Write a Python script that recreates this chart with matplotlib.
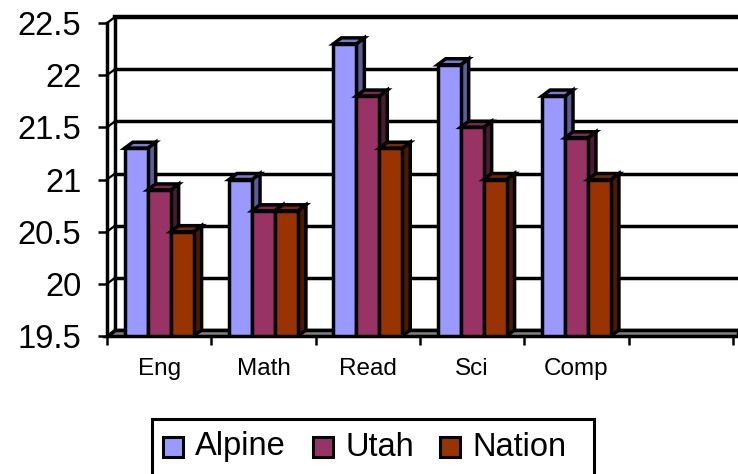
import matplotlib.pyplot as plt
from matplotlib.patches import Polygon, Rectangle

plt.rcParams['font.family'] = ['Liberation Sans', 'DejaVu Sans']

subjects = ['Eng', 'Math', 'Read', 'Sci', 'Comp', '']
series_names = ['Alpine', 'Utah', 'Nation']
alpine = [21.3, 21.0, 22.3, 22.1, 21.8]
utah = [20.9, 20.7, 21.8, 21.5, 21.4]
nation = [20.5, 20.7, 21.3, 21.0, 21.0]
yticks = [19.5, 20, 20.5, 21, 21.5, 22, 22.5]

front_cols = ['#9999FF', '#993366', '#993300']
side_cols = ['#5C5C99', '#4D1A33', '#4D1A00']
top_cols = ['#7A7ACC', '#7A2952', '#7A2900']

W, H = 738, 474
fig = plt.figure(figsize=(W / 100, H / 100), dpi=100)
# axes = front plane of the 3d box, in pixels
L, R, B, T = 107, 733, 336, 23
ax = fig.add_axes([L / W, 1 - B / H, (R - L) / W, (B - T) / H])
ymin, ymax = 19.5, 22.5
nslots = len(subjects)
ax.set_xlim(0, nslots)
ax.set_ylim(ymin, ymax)
for s in ax.spines.values():
    s.set_visible(False)

# depth offset of the back wall (8 px right, 6 px up)
ddx = 8 * nslots / (R - L)
ddy = 6 * (ymax - ymin) / (B - T)
xright = nslots + (W - R) * nslots / (R - L)
lw = 2.5

# back wall gridlines + little diagonals from the front axis
for v in yticks:
    ax.plot([ddx, xright], [v + ddy, v + ddy], color='black', lw=lw if v < ymax else 3.2,
            clip_on=False, zorder=1)
    ax.plot([0, ddx], [v, v + ddy], color='black', lw=1.6, clip_on=False, zorder=1)
ax.plot([ddx, ddx], [ymin + ddy, ymax + ddy], color='black', lw=lw, clip_on=False, zorder=1)
ax.plot([0, 0], [ymin, ymax], color='black', lw=lw, clip_on=False, zorder=1)

# floor
floor = Polygon([(0, ymin), (xright, ymin), (xright, ymin + ddy), (ddx, ymin + ddy)],
                closed=True, facecolor='#808080', edgecolor='black', lw=lw,
                clip_on=False, zorder=1)
ax.add_patch(floor)

# bars with fake depth
width = 0.22
values = [alpine, utah, nation]
z = 2
for i in range(len(alpine)):
    for k, vals in enumerate(values):
        x0 = i + 0.5 + (k - 1) * width - width / 2
        x1 = x0 + width
        v = vals[i]
        ax.bar(x0, v - ymin, width=width, bottom=ymin, align='edge',
               color=front_cols[k], edgecolor='black', lw=lw, zorder=z)
        ax.add_patch(Polygon([(x1, ymin), (x1, v), (x1 + ddx, v + ddy), (x1 + ddx, ymin + ddy)],
                             closed=True, facecolor=side_cols[k], edgecolor='black',
                             lw=lw, zorder=z - 0.5))
        ax.add_patch(Polygon([(x0, v), (x1, v), (x1 + ddx, v + ddy), (x0 + ddx, v + ddy)],
                             closed=True, facecolor=top_cols[k], edgecolor='black',
                             lw=lw, zorder=z - 0.5))
        z += 1

# ticks
ax.set_yticks(yticks)
ax.set_yticklabels(['19.5', '20', '20.5', '21', '21.5', '22', '22.5'])
ax.tick_params(axis='y', length=6.5, width=1.8, pad=12, labelsize=23.5)
ax.set_xticks(range(nslots + 1))
ax.set_xticklabels([])
ax.set_xticks([i + 0.5 for i in range(nslots)], minor=True)
ax.set_xticklabels(subjects, minor=True)
ax.tick_params(axis='x', which='major', length=6.5, width=1.8)
ax.tick_params(axis='x', which='minor', length=0, pad=16, labelsize=17.5)

# legend box (bottom runs off the picture)
def fx(px):
    return px / W

def fy(py):
    return 1 - py / H

fig.add_artist(Rectangle((fx(152), fy(490)), fx(594) - fx(152), fy(419) - fy(490),
                         transform=fig.transFigure, facecolor='white',
                         edgecolor='black', lw=2.2, clip_on=False))
sq_x = [163, 313, 440]
txt_x = [195, 345, 472]
for k, name in enumerate(series_names):
    fig.add_artist(Rectangle((fx(sq_x[k]), fy(457)), fx(20), 20 / H,
                             transform=fig.transFigure, facecolor=front_cols[k],
                             edgecolor='black', lw=2.2))
    fig.text(fx(txt_x[k]), fy(447), name, fontsize=23.5, va='center', ha='left')

fig.savefig('out.png', dpi=100)
